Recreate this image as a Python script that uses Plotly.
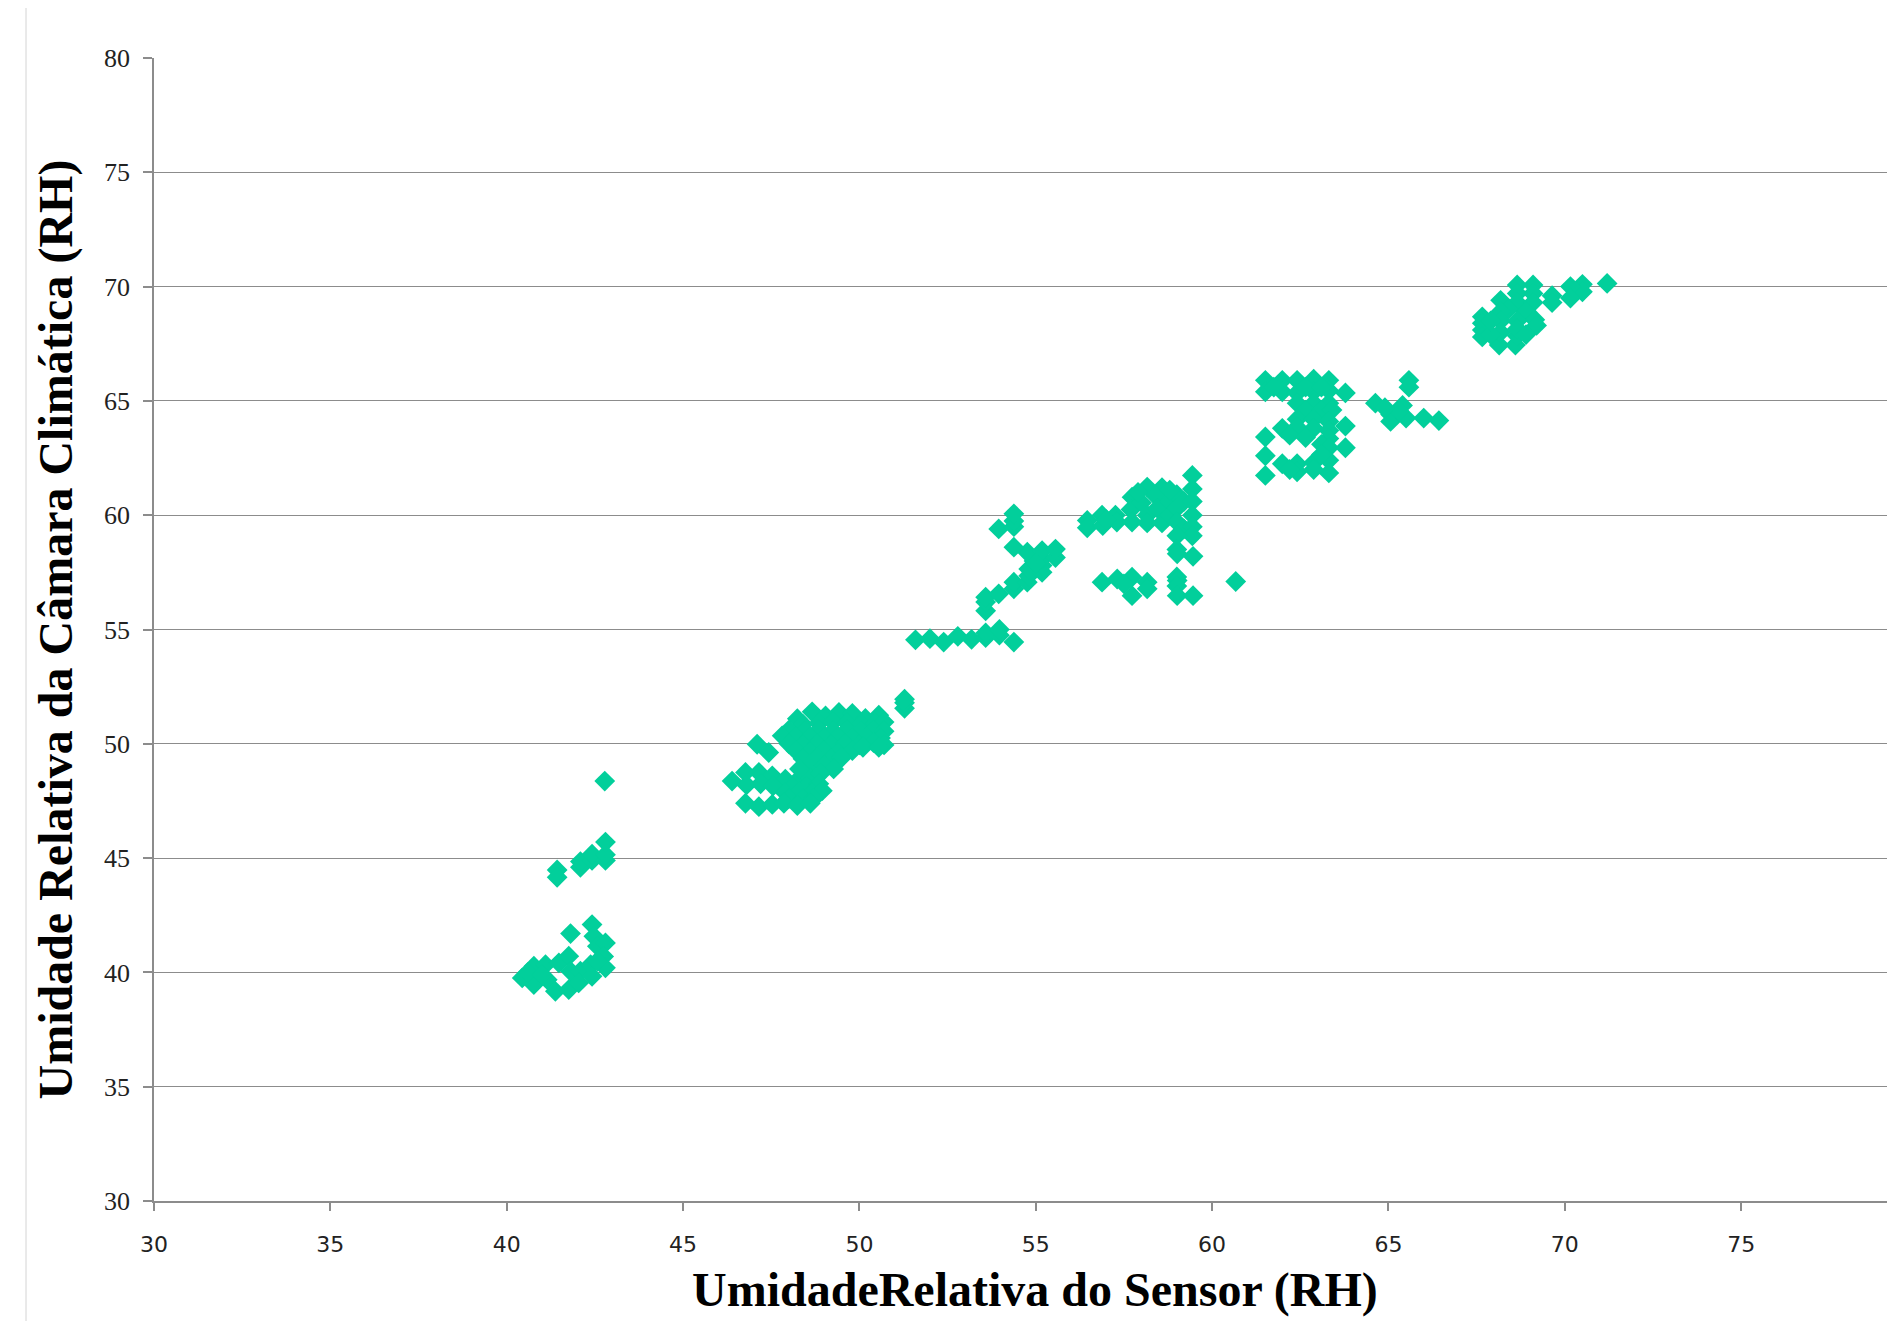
import plotly.graph_objects as go

# ---- Data (sensor RH vs. climatic chamber RH) ----
sensor_a = [40.44, 40.77, 40.77, 41.10, 41.15, 41.38, 41.48, 41.76, 41.81, 41.76,
            42.09, 42.04, 42.38, 42.42, 41.81, 42.42, 42.47, 42.57, 42.80, 42.75,
            42.80, 42.57, 41.43, 41.43, 42.09, 42.09, 42.42, 42.42, 42.80, 42.80,
            42.80, 42.78, 40.60, 41.00]
chamber_a = [39.76, 40.27, 39.47, 40.34, 39.68, 39.17, 40.42, 40.71, 40.05, 39.25,
             40.05, 39.54, 40.34, 39.83, 41.70, 42.09, 41.58, 41.14, 41.29, 40.70,
             40.20, 40.49, 44.48, 44.16, 44.60, 44.85, 44.90, 45.17, 44.90, 45.15,
             45.70, 48.37, 40.00, 39.90]

sensor_b = [48.66, 49.04, 49.42, 49.80, 50.17, 50.55, 48.24,
            48.40, 48.85, 49.25, 49.65, 50.05, 50.45, 50.70,
            48.00, 48.45, 48.85, 49.25, 49.65, 50.05, 50.40, 50.70,
            47.81, 48.20, 48.60, 49.00, 49.40, 49.80, 50.20, 50.60,
            47.10, 48.00, 48.40, 48.80, 49.20, 49.60, 50.00, 50.40, 50.70,
            47.43, 48.20, 48.60, 49.00, 49.40, 49.80, 50.10, 50.55,
            48.40, 48.80, 49.20, 49.50, 48.60, 49.00, 49.27,
            46.39, 46.77, 47.15, 47.53, 47.90, 48.24, 48.60, 48.90, 48.30,
            46.80, 47.20, 47.55, 48.50, 48.85, 48.10,
            47.90, 48.30, 48.65, 48.95, 48.00, 48.40, 48.70,
            46.77, 47.15, 47.53, 47.86, 48.24, 48.61,
            51.28, 51.28, 51.28]
chamber_b = [51.40, 51.22, 51.37, 51.33, 51.11, 51.25, 51.10,
             50.85, 50.90, 50.95, 50.90, 50.85, 50.90, 50.95,
             50.60, 50.55, 50.60, 50.55, 50.60, 50.55, 50.60, 50.55,
             50.35, 50.30, 50.30, 50.25, 50.30, 50.25, 50.30, 50.25,
             49.98, 50.00, 49.95, 50.00, 49.95, 50.00, 49.95, 50.05, 49.95,
             49.62, 49.70, 49.65, 49.70, 49.60, 49.70, 49.85, 49.85,
             49.35, 49.40, 49.35, 49.40, 49.10, 49.05, 48.90,
             48.37, 48.75, 48.75, 48.60, 48.45, 48.40, 48.50, 48.70, 48.90,
             48.20, 48.25, 48.15, 48.15, 48.25, 48.10,
             47.85, 47.90, 47.85, 47.95, 47.60, 47.60, 47.60,
             47.40, 47.25, 47.35, 47.40, 47.30, 47.40,
             51.55, 51.80, 51.95]

sensor_c = [51.59, 52.00, 52.39, 52.79, 53.18, 53.58, 53.97, 54.38, 53.58, 53.97,
            53.58, 53.58, 53.58, 53.95, 54.38, 54.38, 54.76, 54.80, 54.80, 55.18,
            55.18, 54.95, 54.76, 55.18, 55.18, 55.56, 55.56, 55.00, 54.38, 53.95,
            54.38, 54.38, 54.38]
chamber_c = [54.55, 54.60, 54.45, 54.70, 54.57, 54.65, 54.75, 54.45, 54.85, 55.00,
             55.82, 56.20, 56.41, 56.56, 56.78, 57.07, 57.07, 57.35, 57.65, 57.50,
             57.80, 58.00, 58.38, 58.10, 58.45, 58.15, 58.52, 57.90, 58.60, 59.40,
             59.50, 59.75, 60.06]

sensor_d = [56.46, 56.46, 56.88, 56.90, 57.26, 57.30, 57.73, 57.70, 57.73, 58.16,
            58.00, 58.16, 58.16, 58.58, 58.40, 58.45, 58.58, 58.80, 58.80, 59.00,
            59.00, 59.00, 59.20, 59.20, 59.44, 59.44, 59.44, 59.44, 59.44, 59.44,
            59.00, 59.00, 59.01, 59.46, 59.00, 59.01, 59.00, 59.01, 59.46, 56.88,
            57.31, 57.73, 57.73, 58.16, 58.16, 57.50, 60.67, 57.00, 57.90, 58.80]
chamber_d = [59.77, 59.45, 60.00, 59.55, 60.00, 59.70, 60.79, 60.25, 59.70, 61.23,
             60.55, 60.00, 59.66, 61.20, 60.85, 60.30, 59.66, 60.60, 60.00, 60.90,
             60.30, 59.70, 60.60, 59.40, 61.74, 61.15, 60.60, 60.00, 59.50, 59.10,
             59.10, 58.50, 58.31, 58.20, 57.30, 57.14, 56.90, 56.48, 56.48, 57.07,
             57.21, 57.29, 56.48, 57.07, 56.78, 57.00, 57.10, 59.80, 61.00, 61.10]

sensor_e = [61.51, 61.99, 62.41, 62.88, 63.31,
            61.51, 61.99, 62.41, 62.88, 63.31, 63.78,
            61.75, 62.65, 63.10,
            62.41, 62.88, 63.31, 62.65, 63.10, 63.40,
            62.41, 62.88, 63.31, 63.78,
            61.99, 62.41, 62.88, 63.31, 61.51, 62.20, 62.65, 63.31, 63.10, 63.31, 63.78,
            61.51, 61.99, 62.41, 62.88, 63.31, 63.10,
            61.51, 62.41, 63.31, 62.20, 62.88,
            64.63, 65.06, 65.06, 65.40, 65.50, 65.58, 65.58, 66.00, 66.43, 65.30, 64.90]
chamber_e = [65.90, 65.90, 65.90, 65.95, 65.90,
             65.40, 65.40, 65.35, 65.40, 65.45, 65.35,
             65.60, 65.60, 65.60,
             64.90, 64.90, 64.90, 64.60, 64.60, 64.60,
             64.20, 64.20, 64.10, 63.90,
             63.80, 63.85, 63.80, 63.70, 63.42, 63.50, 63.40, 63.35, 63.10, 62.95, 62.95,
             62.60, 62.25, 62.25, 62.30, 62.40, 62.65,
             61.74, 61.90, 61.85, 62.00, 62.00,
             64.90, 64.40, 64.10, 64.80, 64.25, 65.90, 65.60, 64.25, 64.14, 64.55, 64.70]

sensor_f = [71.20, 70.50, 70.50, 70.16, 70.16, 69.64, 69.64, 69.10, 68.65, 69.10,
            68.65, 68.18, 68.65, 69.10, 68.40, 68.90, 69.15, 68.18, 68.18, 68.65,
            67.66, 67.66, 67.66, 67.66, 68.14, 68.60, 68.18, 68.65, 68.65, 67.90,
            67.90, 69.20, 68.90]
chamber_f = [70.14, 70.10, 69.77, 70.00, 69.50, 69.60, 69.30, 70.07, 70.07, 69.70,
             69.70, 69.40, 69.30, 69.30, 69.00, 68.90, 68.55, 68.90, 68.50, 68.50,
             68.68, 68.40, 68.10, 67.80, 67.44, 67.44, 68.00, 67.85, 68.15, 67.90,
             68.50, 68.30, 67.90]

sensor_rh = sensor_a + sensor_b + sensor_c + sensor_d + sensor_e + sensor_f
chamber_rh = chamber_a + chamber_b + chamber_c + chamber_d + chamber_e + chamber_f

x_ticks = [30, 35, 40, 45, 50, 55, 60, 65, 70, 75]
y_ticks = [30, 35, 40, 45, 50, 55, 60, 65, 70, 75, 80]
x_title = "UmidadeRelativa do Sensor (RH)"
y_title = "Umidade Relativa da Câmara Climática (RH)"

# page body has an 8px margin; the plot area runs past the right window edge
OFF = 8
WIN_H = 1329
W, H = 1905, WIN_H - 2 * OFF
PL, PT, PB, PR = 154 - OFF, 58 - OFF, 1201 - OFF, W   # plot box in figure px
L, T, R, B = PL, PT, W - PR, H - PB
X_MAX = 30 + (PR - PL) / 35.27


def px_x(fx):
    return (fx - OFF - PL) / (PR - PL)


def px_y(fy):
    return (PB - (fy - OFF)) / (PB - PT)


fig = go.Figure()
fig.add_trace(go.Scatter(
    x=sensor_rh, y=chamber_rh, mode="markers",
    marker=dict(symbol="diamond", size=16, color="#02CF9B", line=dict(width=0)),
    showlegend=False, hoverinfo="x+y"))

grid = "#8c8c8c"
fig.update_layout(
    width=W, height=H,
    margin=dict(l=L, r=R, t=T, b=B, pad=0),
    paper_bgcolor="white", plot_bgcolor="white",
    xaxis=dict(range=[30, X_MAX], tickvals=x_ticks, ticktext=[str(v) for v in x_ticks],
               showgrid=False, zeroline=False, showline=True, linecolor=grid, linewidth=1.5,
               ticks="outside", ticklen=8, tickcolor=grid, tickwidth=1.5,
               tickfont=dict(family="DejaVu Sans", size=22, color="#222222"),
               ticklabelstandoff=15),
    yaxis=dict(range=[30, 80], tickvals=y_ticks, ticktext=[str(v) for v in y_ticks],
               showgrid=True, gridcolor=grid, gridwidth=1.3, zeroline=False,
               showline=True, linecolor=grid, linewidth=1.5,
               ticks="outside", ticklen=9, tickcolor=grid, tickwidth=1.5,
               tickfont=dict(family="Liberation Serif", size=26, color="#222222"),
               ticklabelstandoff=8),
    annotations=[
        dict(text="<b>" + x_title + "</b>", xref="paper", yref="paper",
             x=px_x(1035), y=px_y(1290),
             xanchor="center", yanchor="middle", showarrow=False,
             font=dict(family="Liberation Serif", size=48, color="black")),
        dict(text="<b>" + y_title + "</b>", xref="paper", yref="paper",
             x=px_x(55), y=0.5, textangle=-90,
             xanchor="center", yanchor="middle", showarrow=False,
             font=dict(family="Liberation Serif", size=48, color="black")),
    ],
    shapes=[dict(type="line", xref="paper", yref="paper",
                 x0=px_x(26), x1=px_x(26),
                 y0=px_y(1340), y1=px_y(0),
                 line=dict(color="#d4d4d4", width=1))],
)

fig.write_html("out.html")
